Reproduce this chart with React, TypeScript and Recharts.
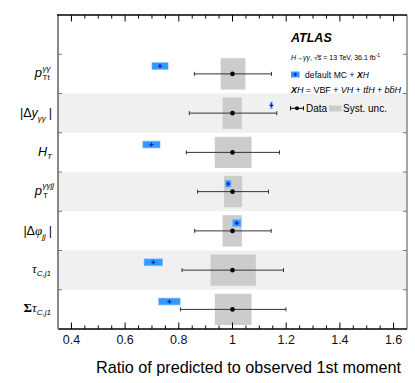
import React from 'react';
import { ComposedChart, Scatter, XAxis, YAxis, ReferenceArea, ReferenceLine, ErrorBar } from 'recharts';

// observables, top to bottom
const OBSERVABLES = ['pTt', 'dy', 'HT', 'pTjj', 'dphi', 'tau', 'sumtau'];

// data: ratio is 1 by construction, total uncertainty and syst band
const DATA_CENTRAL = [1, 1, 1, 1, 1, 1, 1];
const DATA_LOW = [0.858, 0.839, 0.828, 0.87, 0.859, 0.812, 0.806];
const DATA_HIGH = [1.145, 1.165, 1.175, 1.134, 1.144, 1.19, 1.199];
const SYST_LOW = [0.956, 0.963, 0.934, 0.968, 0.963, 0.918, 0.934];
const SYST_HIGH = [1.048, 1.035, 1.071, 1.036, 1.035, 1.087, 1.071];

// default MC + XH prediction and its uncertainty (half width)
const MC_CENTRAL = [0.73, 1.145, 0.698, 0.984, 1.016, 0.705, 0.765];
const MC_UNC = [0.03, 0.003, 0.032, 0.01, 0.015, 0.034, 0.04];

const X_DOMAIN = [0.35, 1.65];
const Y_DOMAIN = [0, 8];
const X_TICKS = [
  0.4, 0.45, 0.5, 0.55, 0.6, 0.65, 0.7, 0.75, 0.8, 0.85, 0.9, 0.95, 1,
  1.05, 1.1, 1.15, 1.2, 1.25, 1.3, 1.35, 1.4, 1.45, 1.5, 1.55, 1.6,
];
const X_LABELS = ['0.4', '0.6', '0.8', '1', '1.2', '1.4', '1.6'];
const ROW_EDGES = [1, 2, 3, 4, 5, 6, 7];

const SANS = '"Liberation Sans", Arial, Helvetica, sans-serif';
const SERIF = '"Liberation Serif", "Times New Roman", serif';

// chart box
const W = 415;
const H = 383;
const MARGIN = { top: 15, right: 8, bottom: 0, left: 0 };
const Y_AXIS_W = 58;
const X_AXIS_H = 54;
const PLOT_LEFT = MARGIN.left + Y_AXIS_W;
const PLOT_W = W - MARGIN.right - PLOT_LEFT;
const PLOT_H = H - MARGIN.top - X_AXIS_H;

const TOP_ROW = OBSERVABLES.length - 0.5;
const MC_SHIFT = 0.2;
const MC_HALF_H = 0.085;
const SYST_HALF_H = 0.4;
const RIGHT_TICK = 0.015;

const rowY = (i: number) => TOP_ROW - i;
const isMajor = (v: number) => Math.abs(v * 5 - Math.round(v * 5)) < 1e-6;
const labelFor = (v: number) => X_LABELS.find((l) => Math.abs(parseFloat(l) - v) < 1e-6);
// pixel helpers for the overlay frame and row labels
const pxX = (v: number) => PLOT_LEFT + ((v - X_DOMAIN[0]) / (X_DOMAIN[1] - X_DOMAIN[0])) * PLOT_W;
const pxY = (v: number) => MARGIN.top + ((Y_DOMAIN[1] - v) / (Y_DOMAIN[1] - Y_DOMAIN[0])) * PLOT_H;

const dataPoints = OBSERVABLES.map((name, i) => ({
  name,
  x: DATA_CENTRAL[i],
  y: rowY(i),
  err: [DATA_CENTRAL[i] - DATA_LOW[i], DATA_HIGH[i] - DATA_CENTRAL[i]],
}));

const mcPoints = OBSERVABLES.map((name, i) => ({ name, x: MC_CENTRAL[i], y: rowY(i) + MC_SHIFT }));

function RowLabel({ name, x, y }: { name: string; x: number; y: number }) {
  const t = { fill: '#000', fontFamily: SANS };
  switch (name) {
    case 'pTt':
      return (
        <g {...t}>
          <text x={x - 10} y={y + 3} textAnchor="end" fontSize={13} fontStyle="italic">p</text>
          <text x={x - 9.5} y={y - 3} fontSize={8} fontStyle="italic">γγ</text>
          <text x={x - 9.5} y={y + 6.5} fontSize={8}>Tt</text>
        </g>
      );
    case 'dy':
      return (
        <text x={x} y={y + 4} textAnchor="end" fontSize={12.5} {...t}>
          |Δ<tspan fontStyle="italic">y</tspan>
          <tspan fontSize={8} fontStyle="italic" dy={4}>γγ</tspan>
          <tspan dx={3} dy={-4}>|</tspan>
        </text>
      );
    case 'HT':
      return (
        <text x={x} y={y + 4} textAnchor="end" fontSize={12.5} fontStyle="italic" {...t}>
          H<tspan fontSize={8} dy={3}>T</tspan>
        </text>
      );
    case 'pTjj':
      return (
        <g {...t}>
          <text x={x - 10} y={y + 3} textAnchor="end" fontSize={13} fontStyle="italic">p</text>
          <text x={x - 9.5} y={y - 4} fontSize={8} fontStyle="italic">γγjj</text>
          <text x={x - 9} y={y + 6.5} fontSize={8}>T</text>
        </g>
      );
    case 'dphi':
      return (
        <text x={x} y={y + 4} textAnchor="end" fontSize={12.5} {...t}>
          |Δ<tspan fontStyle="italic" fontFamily={SERIF} fontSize={13}>φ</tspan>
          <tspan fontSize={8} fontStyle="italic" dy={4}>jj</tspan>
          <tspan dx={3} dy={-4}>|</tspan>
        </text>
      );
    case 'tau':
      return (
        <text x={x - 1} y={y + 3} textAnchor="end" fontSize={13} {...t}>
          <tspan fontStyle="italic" fontFamily={SERIF}>τ</tspan>
          <tspan fontSize={8} fontStyle="italic" dy={3}>C,j1</tspan>
        </text>
      );
    default:
      return (
        <text x={x - 1} y={y + 3} textAnchor="end" fontSize={13} {...t}>
          <tspan fontFamily={SERIF} fontWeight="bold">Σ</tspan>
          <tspan fontStyle="italic" fontFamily={SERIF}>τ</tspan>
          <tspan fontSize={8} fontStyle="italic" dy={3}>C,j1</tspan>
        </text>
      );
  }
}

function BottomTick(props: any) {
  const { x, y, payload } = props;
  const v = payload.value as number;
  const major = isMajor(v);
  const label = labelFor(v);
  return (
    <g>
      <line x1={x} x2={x} y1={y} y2={y - (major ? 6.5 : 3.5)} stroke="#000" strokeWidth={1} />
      {label && (
        <text x={x} y={y + 14.5} textAnchor="middle" fontSize={12.5} fontFamily={SANS} fill="#111">
          {label}
        </text>
      )}
    </g>
  );
}

function LeftTick(props: any) {
  const { x, y } = props;
  return <line x1={x} x2={x + 4} y1={y} y2={y} stroke="#777" strokeWidth={1} />;
}

// drawn above the chart: label gutter, top frame with inward ticks, row labels, legend
function Overlay() {
  return (
    <svg width={W} height={H} style={{ position: 'absolute', left: 0, top: 0, pointerEvents: 'none' }}>
      <rect x={0} y={MARGIN.top - 1} width={PLOT_LEFT - 1.2} height={PLOT_H + 2} fill="#fff" />
      {OBSERVABLES.map((name, i) => (
        <RowLabel key={name} name={name} x={PLOT_LEFT - 6} y={pxY(rowY(i))} />
      ))}
      <line x1={PLOT_LEFT - 1} x2={PLOT_LEFT + PLOT_W} y1={MARGIN.top} y2={MARGIN.top} stroke="#000" strokeWidth={1.3} />
      {X_TICKS.map((v) => (
        <line
          key={v}
          x1={pxX(v)}
          x2={pxX(v)}
          y1={MARGIN.top}
          y2={MARGIN.top + (isMajor(v) ? 6.5 : 3.5)}
          stroke="#000"
          strokeWidth={1}
        />
      ))}
      <g fontFamily={SANS} fill="#000">
        <text x={291} y={42} fontSize={12.5} fontWeight="bold" fontStyle="italic">ATLAS</text>
        <text x={291} y={60} fontSize={7}>
          <tspan fontStyle="italic">H</tspan>→<tspan fontStyle="italic">γγ</tspan>, √s̅ = 13 TeV, 36.1 fb
          <tspan dy={-3} fontSize={5}>-1</tspan>
        </text>
        <rect x={291} y={71.5} width={8.5} height={6} fill="#3399ff" />
        <path d="M293.5 74.5h3.5M295.25 72.8v3.4" stroke="#0022cc" strokeWidth={1.2} />
        <text x={305} y={77.5} fontSize={8.5} textLength={64} lengthAdjust="spacing">
          default MC + <tspan fontStyle="italic" fontWeight="bold">X</tspan>
          <tspan fontStyle="italic">H</tspan>
        </text>
        <text x={291} y={93} fontSize={9} textLength={110} lengthAdjust="spacing">
          <tspan fontStyle="italic" fontWeight="bold">X</tspan>
          <tspan fontStyle="italic">H</tspan> = VBF + <tspan fontStyle="italic">VH</tspan> +{' '}
          <tspan fontStyle="italic">tt̄H</tspan> + <tspan fontStyle="italic">bb̄H</tspan>
        </text>
        <path d="M290.5 108.3h13M290.5 106.3v4M303.5 106.3v4" stroke="#000" strokeWidth={1} />
        <circle cx={297} cy={108.3} r={2} fill="#000" />
        <text x={306} y={112} fontSize={10}>Data</text>
        <rect x={329} y={105.5} width={12.5} height={6} fill="#cccccc" />
        <text x={343} y={112} fontSize={10}>Syst. unc.</text>
      </g>
    </svg>
  );
}

export default function App() {
  return (
    <div style={{ position: 'absolute', left: 0, top: 0, width: W, height: H, background: '#fff' }}>
      <ComposedChart width={W} height={H} margin={MARGIN}>
        <XAxis
          dataKey="x"
          type="number"
          domain={X_DOMAIN}
          allowDataOverflow
          ticks={X_TICKS}
          interval={0}
          tickSize={0}
          tickMargin={0}
          tick={<BottomTick />}
          height={X_AXIS_H}
          axisLine={{ stroke: '#000', strokeWidth: 1.3 }}
          label={{
            content: (p: any) => (
              <text
                x={p.viewBox.x + p.viewBox.width - 6}
                y={p.viewBox.y + 44}
                textAnchor="end"
                fontSize={16.2}
                fontFamily={SANS}
                fill="#000"
              >
                Ratio of predicted to observed 1st moment
              </text>
            ),
          }}
        />
        <YAxis
          dataKey="y"
          type="number"
          domain={Y_DOMAIN}
          allowDataOverflow
          ticks={ROW_EDGES}
          interval={0}
          tickSize={0}
          tickMargin={0}
          tick={<LeftTick />}
          width={Y_AXIS_W}
          axisLine={{ stroke: '#888', strokeWidth: 2 }}
        />

        {OBSERVABLES.map((name, i) =>
          i % 2 === 1 ? (
            <ReferenceArea
              key={`band-${name}`}
              x1={X_DOMAIN[0]}
              x2={X_DOMAIN[1]}
              y1={rowY(i) - 0.5}
              y2={rowY(i) + 0.5}
              fill="#f0f0f0"
              fillOpacity={1}
              stroke="none"
            />
          ) : null,
        )}
        {OBSERVABLES.map((name, i) => (
          <ReferenceArea
            key={`syst-${name}`}
            x1={SYST_LOW[i]}
            x2={SYST_HIGH[i]}
            y1={rowY(i) - SYST_HALF_H}
            y2={rowY(i) + SYST_HALF_H}
            fill="#cccccc"
            fillOpacity={1}
            stroke="none"
          />
        ))}
        {OBSERVABLES.map((name, i) => (
          <ReferenceArea
            key={`mc-${name}`}
            x1={MC_CENTRAL[i] - MC_UNC[i]}
            x2={MC_CENTRAL[i] + MC_UNC[i]}
            y1={rowY(i) + MC_SHIFT - MC_HALF_H}
            y2={rowY(i) + MC_SHIFT + MC_HALF_H}
            fill="#3399ff"
            fillOpacity={1}
            stroke="#66b2ff"
            strokeWidth={0.6}
          />
        ))}

        {/* right frame with inward ticks */}
        <ReferenceLine x={X_DOMAIN[1]} stroke="#888" strokeWidth={1.5} />
        {ROW_EDGES.map((v) => (
          <ReferenceLine
            key={`right-${v}`}
            segment={[
              { x: X_DOMAIN[1], y: v },
              { x: X_DOMAIN[1] - RIGHT_TICK, y: v },
            ]}
            stroke="#777"
            strokeWidth={1}
          />
        ))}

        <Scatter
          data={mcPoints}
          isAnimationActive={false}
          shape={(p: any) => (
            <path
              d={`M${p.cx - 2} ${p.cy}h4M${p.cx} ${p.cy - 2}v4`}
              stroke="#0022cc"
              strokeWidth={1.2}
            />
          )}
        />
        <Scatter
          data={dataPoints}
          isAnimationActive={false}
          shape={(p: any) => <circle cx={p.cx} cy={p.cy} r={2.3} fill="#000" />}
        >
          <ErrorBar dataKey="err" direction="x" width={2} stroke="#333" strokeWidth={1} />
        </Scatter>
      </ComposedChart>
      <Overlay />
    </div>
  );
}
